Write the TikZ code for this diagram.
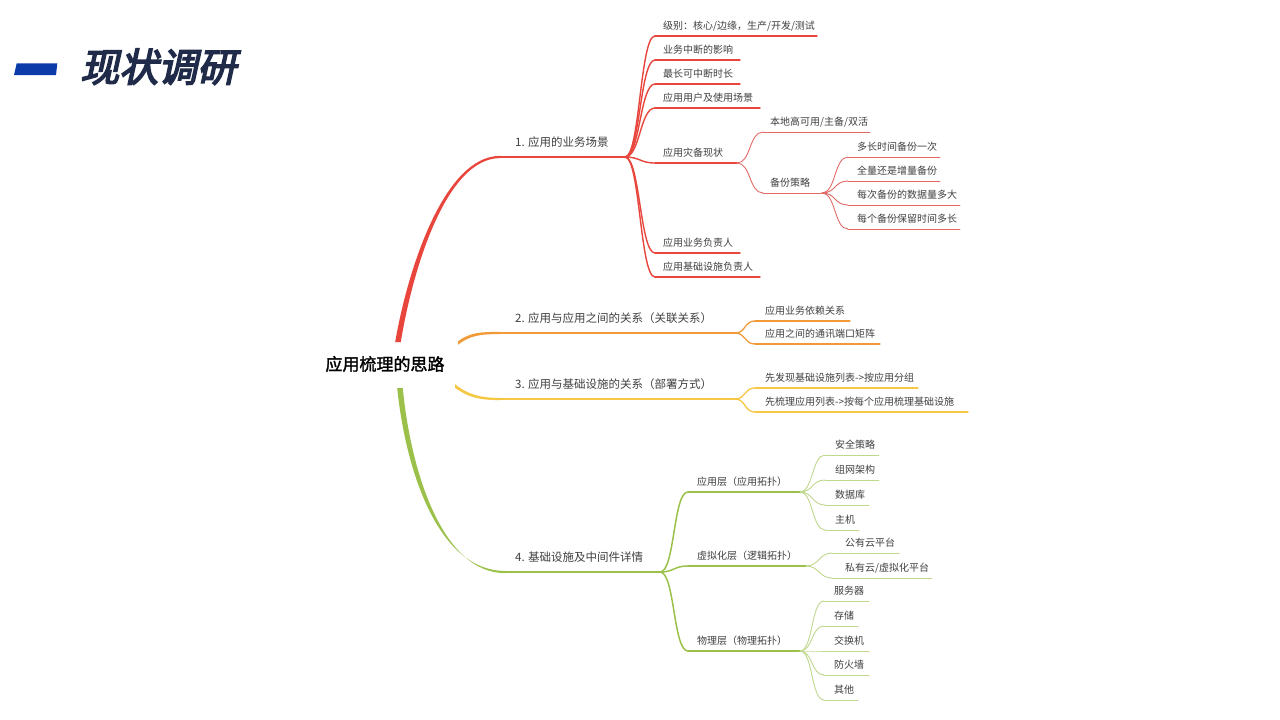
\documentclass[tikz,border=0pt]{standalone}
\usepackage{fontspec}
\setmainfont{Noto Sans CJK SC}
\newfontfamily\rootfont[FakeBold=1.6]{Noto Sans CJK SC}
\newfontfamily\titlefont[FakeSlant=0.22,FakeBold=4]{Noto Sans CJK SC}
\usetikzlibrary{calc}
\definecolor{cRed}{HTML}{E8453C}
\definecolor{cRedL}{HTML}{E26A66}
\definecolor{cOrange}{HTML}{F19A38}
\definecolor{cYellow}{HTML}{F6C744}
\definecolor{cGreen}{HTML}{9CC14B}
\definecolor{cGreenL}{HTML}{C0D88E}
\definecolor{cText}{HTML}{404040}
\definecolor{cTitle}{HTML}{1F2B48}
\definecolor{cBlue}{HTML}{0A3BA8}
% #1 name, #2 x1, #3 x2, #4 y, #5 text x, #6 baseline offset, #7 text style, #8 line style, #9 text
\newcommand\mmitem[9]{%
  \coordinate (#1-s) at (#2,#4);
  \coordinate (#1-e) at (#3,#4);
  \node[#7] (#1) at (#5,#4-#6) {#9};
  \draw[#8] (#1-s) -- (#1-e);
}
% #1 style, #2 control distance, #3 from, #4 to
\newcommand\mmlink[4]{\draw[#1] (#3) .. controls +(#2,0) and +(-#2,0) .. (#4);}
\begin{document}
\begin{tikzpicture}[x=1pt,y=-1pt,
  txt/.style={anchor=base west, inner sep=0pt, text=cText, font=\fontsize{10}{12}\selectfont},
  btxt/.style={anchor=base west, inner sep=0pt, text=cText, font=\fontsize{11.5}{14}\selectfont},
  redA/.style={draw=cRed, line width=2.2pt, line cap=round},
  redB/.style={draw=cRed, line width=1.4pt, line cap=round},
  redC/.style={draw=cRedL, line width=0.9pt, line cap=round},
  oraA/.style={draw=cOrange, line width=2.2pt, line cap=round},
  oraB/.style={draw=cOrange, line width=1.3pt, line cap=round},
  yelA/.style={draw=cYellow, line width=2.2pt, line cap=round},
  yelB/.style={draw=cYellow, line width=1.3pt, line cap=round},
  grnA/.style={draw=cGreen, line width=2.2pt, line cap=round},
  grnB/.style={draw=cGreen, line width=1.5pt, line cap=round},
  grnC/.style={draw=cGreenL, line width=0.9pt, line cap=round}]
\useasboundingbox (0,0) rectangle (1280,720);
\fill[white] (0,0) rectangle (1280,720);

% title
\fill[cBlue] (16.7,63.3) -- (57.3,63.3) -- (56,75) -- (14,75) -- cycle;
\node[anchor=base west, inner sep=0pt, text=cTitle, font=\titlefont\fontsize{39}{44}\selectfont] (title) at (80,81.5) {现状调研};

% root
\node[inner sep=0pt, text=black, font=\rootfont\fontsize{17}{20}\selectfont] (root) at (385,364) {应用梳理的思路};

% root connectors (tapered)
\coordinate (R1) at (398,342);
\coordinate (R2) at (458,343);
\coordinate (R3) at (455,386);
\coordinate (R4) at (400,388);
\coordinate (b1-s) at (500,157);
\coordinate (b2-s) at (500,333);
\coordinate (b3-s) at (500,399);
\coordinate (b4-s) at (505,572);
\fill[cRed] ($(R1)+(-2.8,0)$) .. controls ($(R1)+(9.5,-72)$) and ($(b1-s)+(-56,-1.1)$) .. ($(b1-s)+(0,-1.1)$)
  -- ($(b1-s)+(0,1.1)$) .. controls ($(b1-s)+(-54,1.1)$) and ($(R1)+(14.5,-72)$) .. ($(R1)+(2.8,0)$) -- cycle;
\fill[cOrange] ($(R2)+(0,-1.7)$) .. controls ($(R2)+(12,-10.5)$) and ($(b2-s)+(-20,-1.1)$) .. ($(b2-s)+(0,-1.1)$)
  -- ($(b2-s)+(0,1.1)$) .. controls ($(b2-s)+(-20,1.1)$) and ($(R2)+(12,-7.5)$) .. ($(R2)+(0,1.7)$) -- cycle;
\fill[cYellow] ($(R3)+(0,-1.7)$) .. controls ($(R3)+(13,8.5)$) and ($(b3-s)+(-20,-1.1)$) .. ($(b3-s)+(0,-1.1)$)
  -- ($(b3-s)+(0,1.1)$) .. controls ($(b3-s)+(-20,1.1)$) and ($(R3)+(13,11.5)$) .. ($(R3)+(0,1.7)$) -- cycle;
\fill[cGreen] ($(R4)+(-2.8,0)$) .. controls ($(R4)+(5.5,82)$) and ($(b4-s)+(-67,-1.1)$) .. ($(b4-s)+(0,-1.1)$)
  -- ($(b4-s)+(0,1.1)$) .. controls ($(b4-s)+(-63,1.1)$) and ($(R4)+(10.5,82)$) .. ($(R4)+(2.8,0)$) -- cycle;

% branch lines and labels
\coordinate (b1-e) at (625,157);
\coordinate (b2-e) at (735,333);
\coordinate (b3-e) at (735,399);
\coordinate (b4-e) at (660,572);
\draw[redA] (b1-s) -- (b1-e);
\draw[oraA] (b2-s) -- (b2-e);
\draw[yelA] (b3-s) -- (b3-e);
\draw[grnA] (b4-s) -- (b4-e);
\node[btxt] (b1) at (515,146) {1. 应用的业务场景};
\node[btxt] (b2) at (515,322) {2. 应用与应用之间的关系（关联关系）};
\node[btxt] (b3) at (515,388.5) {3. 应用与基础设施的关系（部署方式）};
\node[btxt] (b4) at (515,561) {4. 基础设施及中间件详情};

% branch 1 children
\mmitem{a1}{655}{817}{36}{663}{6.5}{txt}{redB}{级别：核心/边缘，生产/开发/测试}
\mmitem{a2}{655}{740}{60}{663}{6.5}{txt}{redB}{业务中断的影响}
\mmitem{a3}{655}{740}{84}{663}{6.5}{txt}{redB}{最长可中断时长}
\mmitem{a4}{655}{760}{108}{663}{6.5}{txt}{redB}{应用用户及使用场景}
\mmitem{a5}{655}{737}{163}{663}{6.5}{txt}{redB}{应用灾备现状}
\mmitem{a6}{655}{740}{253}{663}{6.5}{txt}{redB}{应用业务负责人}
\mmitem{a7}{655}{760}{277}{663}{6.5}{txt}{redB}{应用基础设施负责人}
\foreach \c in {a1,a2,a3,a4,a5,a6,a7}{\mmlink{redB}{15}{b1-e}{\c-s}}

% 应用灾备现状 children
\mmitem{c1}{763}{870}{132}{770}{6.5}{txt}{redC}{本地高可用/主备/双活}
\mmitem{c2}{763}{822}{193}{770}{6.5}{txt}{redC}{备份策略}
\foreach \c in {c1,c2}{\mmlink{redC}{14}{a5-e}{\c-s}}

% 备份策略 children
\mmitem{h1}{848}{940}{157}{857}{6.5}{txt}{redC}{多长时间备份一次}
\mmitem{h2}{848}{940}{181}{857}{6.5}{txt}{redC}{全量还是增量备份}
\mmitem{h3}{848}{960}{205}{857}{6.5}{txt}{redC}{每次备份的数据量多大}
\mmitem{h4}{848}{960}{229}{857}{6.5}{txt}{redC}{每个备份保留时间多长}
\foreach \c in {h1,h2,h3,h4}{\mmlink{redC}{14}{c2-e}{\c-s}}

% branch 2 children
\mmitem{d1}{755}{850}{321}{765}{7}{txt}{oraB}{应用业务依赖关系}
\mmitem{d2}{755}{880}{344}{765}{6.5}{txt}{oraB}{应用之间的通讯端口矩阵}
\foreach \c in {d1,d2}{\mmlink{oraB}{11}{b2-e}{\c-s}}

% branch 3 children
\mmitem{e1}{755}{918}{388}{765}{6.5}{txt}{yelB}{先发现基础设施列表->按应用分组}
\mmitem{e2}{755}{968}{412}{765}{6.5}{txt}{yelB}{先梳理应用列表->按每个应用梳理基础设施}
\foreach \c in {e1,e2}{\mmlink{yelB}{11}{b3-e}{\c-s}}

% branch 4 children
\mmitem{f1}{688}{800}{492}{697}{7}{txt}{grnB}{应用层（应用拓扑）}
\mmitem{f2}{688}{806}{566}{697}{7}{txt}{grnB}{虚拟化层（逻辑拓扑）}
\mmitem{f3}{688}{800}{651}{697}{7}{txt}{grnB}{物理层（物理拓扑）}
\foreach \c in {f1,f2,f3}{\mmlink{grnB}{15}{b4-e}{\c-s}}

% 应用层 children
\mmitem{g1}{825}{879}{455}{835}{6.5}{txt}{grnC}{安全策略}
\mmitem{g2}{825}{879}{480}{835}{6.5}{txt}{grnC}{组网架构}
\mmitem{g3}{825}{869}{505}{835}{6.5}{txt}{grnC}{数据库}
\mmitem{g4}{825}{859}{530}{835}{6.5}{txt}{grnC}{主机}
\foreach \c in {g1,g2,g3,g4}{\mmlink{grnC}{13}{f1-e}{\c-s}}

% 虚拟化层 children
\mmitem{k1}{832}{899}{553}{845}{6.5}{txt}{grnC}{公有云平台}
\mmitem{k2}{832}{932}{578}{845}{6.5}{txt}{grnC}{私有云/虚拟化平台}
\foreach \c in {k1,k2}{\mmlink{grnC}{13}{f2-e}{\c-s}}

% 物理层 children
\mmitem{p1}{824}{869}{601}{834}{6.5}{txt}{grnC}{服务器}
\mmitem{p2}{824}{858}{626}{834}{6.5}{txt}{grnC}{存储}
\mmitem{p3}{824}{869}{651}{834}{6.5}{txt}{grnC}{交换机}
\mmitem{p4}{824}{869}{675}{834}{6.5}{txt}{grnC}{防火墙}
\mmitem{p5}{824}{858}{700}{834}{6.5}{txt}{grnC}{其他}
\foreach \c in {p1,p2,p3,p4,p5}{\mmlink{grnC}{13}{f3-e}{\c-s}}
\end{tikzpicture}
\end{document}
